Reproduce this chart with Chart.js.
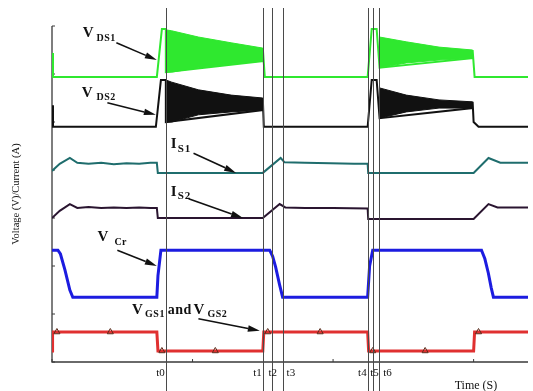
<!DOCTYPE html>
<html>
<head>
<meta charset="utf-8">
<script src="https://cdn.jsdelivr.net/npm/chart.js@4"></script>
<style>html,body{margin:0;padding:0;background:#fff}</style>
</head>
<body>
<canvas id="c" width="533" height="391"></canvas>
<script>
// time axis in us (tick every 10), levels in arbitrary stacked units (0..7)
const vds1T = [0, 0.07, 7.46, 7.82, 8.10, 8.10, 15.0, 15.0, 15.14, 22.46, 22.75, 23.10, 23.31, 29.93, 29.93, 30.07, 33.87];
const vds1V = [6.44, 5.94, 5.94, 6.94, 6.94, 6.04, 6.27, 6.54, 5.94, 5.94, 6.94, 6.94, 6.13, 6.33, 6.50, 5.94, 5.94];

const vds2T = [0, 0.07, 7.39, 7.75, 8.10, 8.10, 15.0, 15.0, 15.07, 22.46, 22.75, 23.10, 23.31, 29.93, 29.93, 30.0, 30.35, 33.87];
const vds2V = [5.35, 4.90, 4.90, 5.875, 5.875, 5.00, 5.25, 5.50, 4.90, 4.90, 5.875, 5.875, 5.08, 5.29, 5.42, 5.0, 4.90, 4.90];

// ringing envelopes (upper / lower) after t0 and after t6
const ring1T = [8.10, 8.52, 10.42, 12.75, 15.0];
const ring2T = [23.31, 25.21, 27.54, 29.93];
const vds1Hi1 = [6.92, 6.90, 6.77, 6.65, 6.54];
const vds1Lo1 = [6.04, 6.04, 6.13, 6.21, 6.27];
const vds1Hi2 = [6.77, 6.67, 6.56, 6.50];
const vds1Lo2 = [6.13, 6.23, 6.29, 6.33];
const vds2Hi1 = [5.875, 5.83, 5.67, 5.56, 5.50];
const vds2Lo1 = [5.00, 5.00, 5.15, 5.21, 5.25];
const vds2Hi2 = [5.71, 5.56, 5.46, 5.42];
const vds2Lo2 = [5.08, 5.21, 5.29, 5.29];

const is1T = [0, 0.55, 1.27, 1.8, 2.6, 3.5, 4.4, 5.3, 6.2, 7.0, 7.46, 7.53, 15.0, 16.27, 16.55, 18.0, 19.8, 21.5, 22.46, 22.5, 30.0, 31.06, 31.9, 33.87];
const is1V = [3.98, 4.13, 4.25, 4.15, 4.13, 4.15, 4.12, 4.14, 4.13, 4.15, 4.15, 3.94, 3.94, 4.25, 4.16, 4.15, 4.14, 4.13, 4.13, 3.94, 3.94, 4.25, 4.15, 4.15];

const is2T = [0, 0.55, 1.27, 1.8, 2.6, 3.5, 4.4, 5.3, 6.2, 7.0, 7.46, 7.53, 15.0, 16.2, 16.6, 18.0, 20.0, 22.46, 22.5, 30.0, 31.06, 31.7, 33.87];
const is2V = [3.0, 3.15, 3.29, 3.21, 3.23, 3.21, 3.22, 3.21, 3.22, 3.21, 3.21, 3.0, 3.0, 3.29, 3.22, 3.21, 3.21, 3.2, 2.98, 2.98, 3.29, 3.22, 3.22];

const vcrT = [0, 0.42, 0.6, 0.92, 1.27, 1.48, 7.46, 7.54, 7.75, 15.49, 15.7, 15.91, 16.2, 16.41, 22.46, 22.6, 22.82, 30.56, 30.8, 31.05, 31.25, 31.41, 33.87];
const vcrV = [2.33, 2.33, 2.25, 1.92, 1.5, 1.35, 1.35, 1.8, 2.33, 2.33, 2.2, 1.98, 1.6, 1.35, 1.35, 2.0, 2.33, 2.33, 2.15, 1.85, 1.55, 1.35, 1.35];

const vgsT = [0, 0.04, 7.46, 7.54, 15.0, 15.07, 22.46, 22.53, 30.0, 30.07, 33.87];
const vgsV = [0.23, 0.625, 0.625, 0.23, 0.23, 0.625, 0.625, 0.23, 0.23, 0.625, 0.625];

const markT = [0.35, 4.15, 7.82, 11.62, 15.35, 19.08, 22.82, 26.55, 30.35];
const markV = [0.625, 0.625, 0.23, 0.23, 0.625, 0.625, 0.23, 0.23, 0.625];

const eventT = [8.10, 15.0, 15.63, 16.41, 22.46, 22.87, 23.29];
const eventLabels = ['t0', 't1', 't2', 't3', 't4', 't5', 't6'];
const eventAlign = ['right', 'right', 'center', 'left', 'right', 'center', 'left'];

const xTicks = [0, 10, 20, 30];
const yTicks = [0, 1, 2, 3, 4, 5, 6, 7];

// signal names with arrows, in data units; last field picks the font
const notes = [
  { parts: [['V', 2.18, 6.77, 0], ['DS1', 3.17, 6.69, 1]], arrow: [4.58, 6.65, 7.46, 6.29] },
  { parts: [['V', 2.11, 5.52, 0], ['DS2', 3.17, 5.46, 1]], arrow: [3.94, 5.40, 7.39, 5.15] },
  { parts: [['I', 8.45, 4.46, 0], ['S1', 8.94, 4.375, 3]], arrow: [10.07, 4.35, 13.1, 3.94] },
  { parts: [['I', 8.45, 3.46, 0], ['S2', 8.94, 3.40, 3]], arrow: [9.72, 3.40, 13.59, 3.0] },
  { parts: [['V', 3.24, 2.52, 0], ['Cr', 4.44, 2.44, 1]], arrow: [4.65, 2.33, 7.46, 2.0] },
  { parts: [['V', 5.70, 1.0, 0], ['GS1', 6.62, 0.94, 1], ['and', 8.24, 1.0, 2], ['V', 10.07, 1.0, 0], ['GS2', 11.06, 0.94, 1]],
    arrow: [10.42, 0.90, 14.79, 0.65] }
];

function pts(t, v) { return t.map((x, i) => ({ x: x, y: v[i] })); }

function trace(t, v, color, width) {
  return { data: pts(t, v), borderColor: color, borderWidth: width, pointRadius: 0, fill: false, tension: 0 };
}
function bandTop(t, v, color) {
  return { data: pts(t, v), borderColor: color, borderWidth: 1, pointRadius: 0, fill: false };
}
function bandBottom(t, v, color) {
  return { data: pts(t, v), borderColor: color, borderWidth: 1, pointRadius: 0, fill: '-1', backgroundColor: color };
}

const green = '#2fe82f';
const black = '#111111';

const axesPlugin = {
  id: 'axes',
  beforeDatasetsDraw(chart) {
    const ctx = chart.ctx, xs = chart.scales.x, ys = chart.scales.y, a = chart.chartArea;
    ctx.save();
    ctx.strokeStyle = '#3a3a3a';
    ctx.lineWidth = 1.3;
    ctx.beginPath();
    ctx.moveTo(a.left, a.top); ctx.lineTo(a.left, a.bottom); ctx.lineTo(a.right, a.bottom);
    ctx.stroke();
    ctx.lineWidth = 1;
    yTicks.forEach(v => {
      const y = ys.getPixelForValue(v);
      ctx.beginPath(); ctx.moveTo(a.left, y); ctx.lineTo(a.left + 3, y); ctx.stroke();
    });
    xTicks.forEach(v => {
      const x = xs.getPixelForValue(v);
      ctx.beginPath(); ctx.moveTo(x, a.bottom); ctx.lineTo(x, a.bottom - 3); ctx.stroke();
    });
    ctx.restore();
  },
  afterDatasetsDraw(chart) {
    const ctx = chart.ctx, xs = chart.scales.x, ys = chart.scales.y, a = chart.chartArea;
    ctx.save();
    // event lines
    ctx.strokeStyle = '#4a4a4a';
    ctx.lineWidth = 1;
    eventT.forEach(t => {
      const x = Math.round(xs.getPixelForValue(t)) + 0.5;
      ctx.beginPath(); ctx.moveTo(x, 8); ctx.lineTo(x, chart.height); ctx.stroke();
    });
    ctx.fillStyle = '#111';
    ctx.font = '11px "Liberation Serif"';
    ctx.textBaseline = 'alphabetic';
    eventT.forEach((t, i) => {
      let x = xs.getPixelForValue(t);
      const al = eventAlign[i];
      if (al === 'right') x -= 1;
      if (al === 'left') x += 4;
      if (al === 'center') x += 1;
      ctx.textAlign = al;
      ctx.fillText(eventLabels[i], x, a.bottom + 14);
    });
    // axis titles
    ctx.textAlign = 'center';
    ctx.font = '12px "Liberation Serif"';
    ctx.fillText('Time (S)', 476, 389);
    ctx.save();
    ctx.translate(19, (a.top + a.bottom) / 2);
    ctx.rotate(-Math.PI / 2);
    ctx.font = '10.5px "Liberation Serif"';
    ctx.fillText('Voltage (V)/Current (A)', 0, 0);
    ctx.restore();
    // signal names and arrows
    const fonts = ['bold 15px "Liberation Serif"', 'bold 10px "Liberation Serif"',
                   'bold 14px "Liberation Serif"', 'bold 11px "Liberation Serif"'];
    const spacing = ['0px', '0.5px', '0.5px', '1px'];
    ctx.textAlign = 'left';
    notes.forEach(n => {
      n.parts.forEach(p => {
        ctx.font = fonts[p[3]];
        ctx.letterSpacing = spacing[p[3]];
        ctx.fillText(p[0], xs.getPixelForValue(p[1]), ys.getPixelForValue(p[2]));
      });
      ctx.letterSpacing = '0px';
      const x1 = xs.getPixelForValue(n.arrow[0]), y1 = ys.getPixelForValue(n.arrow[1]);
      const x2 = xs.getPixelForValue(n.arrow[2]), y2 = ys.getPixelForValue(n.arrow[3]);
      const ang = Math.atan2(y2 - y1, x2 - x1);
      const hl = 12, hw = 3.2;
      const bx = x2 - hl * Math.cos(ang), by = y2 - hl * Math.sin(ang);
      ctx.strokeStyle = '#111';
      ctx.lineWidth = 1.6;
      ctx.beginPath(); ctx.moveTo(x1, y1); ctx.lineTo(bx, by); ctx.stroke();
      ctx.beginPath();
      ctx.moveTo(x2, y2);
      ctx.lineTo(bx + hw * Math.sin(ang), by - hw * Math.cos(ang));
      ctx.lineTo(bx - hw * Math.sin(ang), by + hw * Math.cos(ang));
      ctx.closePath();
      ctx.fill();
    });
    ctx.restore();
  }
};

new Chart(document.getElementById('c').getContext('2d'), {
  type: 'line',
  data: {
    datasets: [
      { data: pts(markT, markV), showLine: false, pointStyle: 'triangle', pointRadius: 3.5,
        pointBorderColor: '#5a2a1a', pointBackgroundColor: 'rgba(0,0,0,0)', pointBorderWidth: 1 },
      trace(vgsT, vgsV, '#e03030', 3),
      trace(vcrT, vcrV, '#1c1ce0', 3),
      trace(is2T, is2V, '#2a1530', 2),
      trace(is1T, is1V, '#1f6d6d', 2),
      bandTop(ring1T, vds2Hi1, black), bandBottom(ring1T, vds2Lo1, black),
      bandTop(ring2T, vds2Hi2, black), bandBottom(ring2T, vds2Lo2, black),
      trace(vds2T, vds2V, black, 2),
      bandTop(ring1T, vds1Hi1, green), bandBottom(ring1T, vds1Lo1, green),
      bandTop(ring2T, vds1Hi2, green), bandBottom(ring2T, vds1Lo2, green),
      trace(vds1T, vds1V, green, 2)
    ]
  },
  options: {
    responsive: false,
    animation: false,
    devicePixelRatio: 1,
    layout: { padding: { left: 52, top: 26, right: 0, bottom: 29 } },
    plugins: { legend: { display: false }, tooltip: { enabled: false } },
    scales: {
      x: { type: 'linear', min: 0, max: 33.87, display: false },
      y: { type: 'linear', min: 0, max: 7, display: false }
    }
  },
  plugins: [axesPlugin]
});
</script>
</body>
</html>
